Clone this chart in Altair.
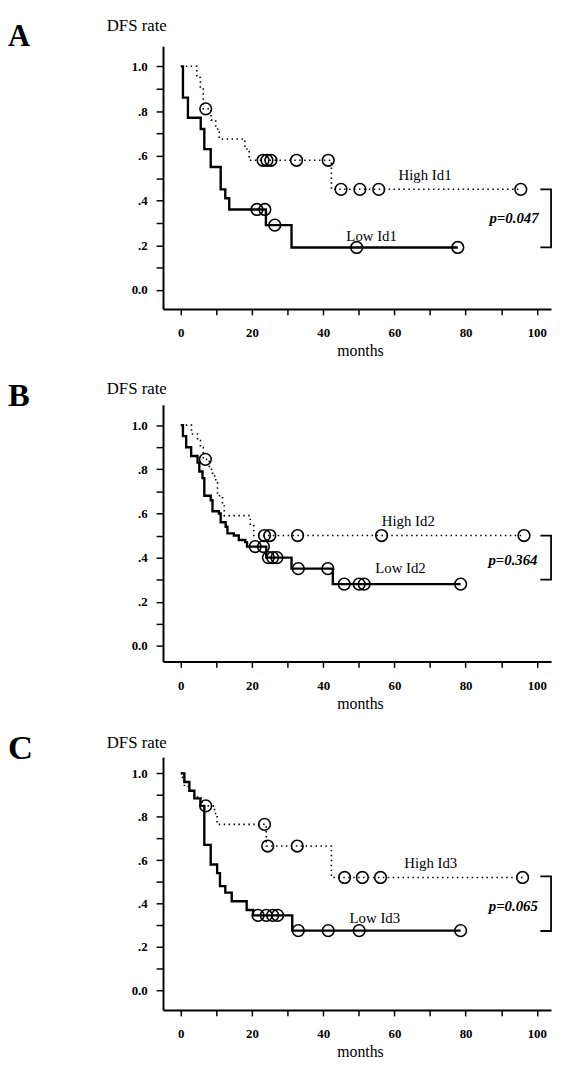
import altair as alt
import pandas as pd

# ---------------- data ----------------
panel_letters = ["A", "B", "C"]
high_names = ["High Id1", "High Id2", "High Id3"]
low_names = ["Low Id1", "Low Id2", "Low Id3"]
p_texts = ["p=0.047", "p=0.364", "p=0.065"]

# Panel A (Id1): step times / survival after each step, censored times
a_high_t = [0, 4.5, 5.5, 6.3, 8.5, 9.8, 10.8, 18.0, 19.2, 42.3]
a_high_s = [1.0, 0.95, 0.905, 0.81, 0.76, 0.72, 0.675, 0.63, 0.58, 0.45]
a_high_cens = [7.0, 23.1, 24.2, 25.3, 32.5, 41.4, 45.0, 50.3, 55.6, 95.5]
a_low_t = [0, 0.6, 2.0, 5.6, 6.6, 8.4, 11.2, 12.5, 13.6, 23.9, 31.1]
a_low_s = [1.0, 0.86, 0.77, 0.72, 0.63, 0.55, 0.45, 0.41, 0.36, 0.29, 0.19]
a_low_cens = [21.4, 23.6, 26.4, 49.4, 77.8]

# Panel B (Id2)
b_high_t = [0, 3.0, 4.7, 5.5, 6.3, 8.0, 8.9, 9.8, 10.3, 11.7, 12.2, 19.5, 20.5]
b_high_s = [1.0, 0.96, 0.93, 0.90, 0.845, 0.80, 0.77, 0.74, 0.68, 0.64, 0.59, 0.545, 0.50]
b_high_cens = [6.9, 23.5, 25.0, 32.8, 56.4, 96.4]
b_low_t = [0, 0.6, 1.5, 2.9, 4.7, 5.2, 6.1, 6.6, 8.4, 8.9, 10.7, 11.2, 12.6, 13.1,
           14.9, 16.3, 18.1, 18.6, 24.0, 31.1, 42.7]
b_low_s = [1.0, 0.95, 0.90, 0.86, 0.83, 0.79, 0.76, 0.68, 0.66, 0.61, 0.60, 0.56, 0.54, 0.51,
           0.50, 0.48, 0.47, 0.45, 0.40, 0.35, 0.28]
b_low_cens = [20.9, 23.2, 24.6, 25.8, 27.0, 33.0, 41.3, 45.9, 50.1, 51.5, 78.6]

# Panel C (Id3)
c_high_t = [0, 0.5, 1.0, 2.4, 3.8, 4.7, 6.0, 9.5, 10.2, 24.0, 42.3]
c_high_s = [1.0, 0.98, 0.94, 0.92, 0.90, 0.885, 0.85, 0.815, 0.765, 0.665, 0.52]
c_high_cens = [7.0, 23.5, 24.4, 32.7, 46.0, 51.0, 56.1, 96.0]
c_low_t = [0, 1.0, 2.4, 3.8, 5.5, 6.6, 8.4, 10.2, 11.0, 12.5, 14.3, 18.5, 20.3, 31.3]
c_low_s = [1.0, 0.96, 0.92, 0.885, 0.85, 0.67, 0.58, 0.54, 0.48, 0.45, 0.41, 0.37, 0.345, 0.275]
c_low_cens = [21.7, 24.0, 25.8, 27.2, 33.0, 41.4, 50.1, 78.6]

# annotation anchors (data units: months, rate)
high_label_t = [68.6, 63.9, 70.2]
high_label_s = [0.513, 0.564, 0.587]
low_label_t = [53.6, 61.7, 54.5]
low_label_s = [0.243, 0.352, 0.332]
p_label_t = [93.6, 93.3, 93.4]
p_label_s = [0.322, 0.388, 0.39]
bracket_top = [0.45, 0.50, 0.525]
bracket_bottom = [0.19, 0.30, 0.273]
bracket_t = [101, 104]

x_ticks = list(range(0, 101, 10))
y_ticks = [round(i / 10, 1) for i in range(11)]

curves = [
    (a_high_t, a_high_s, a_high_cens, a_low_t, a_low_s, a_low_cens),
    (b_high_t, b_high_s, b_high_cens, b_low_t, b_low_s, b_low_cens),
    (c_high_t, c_high_s, c_high_cens, c_low_t, c_low_s, c_low_cens),
]

# ---------------- layout / style ----------------
SERIF = "Liberation Serif"
PLOT_W = 393
heights = [266, 260, 256]
top_px = [20.3, 20.7, 16.4]      # px from plot top to the 1.0 level
unit_px = [226.5, 223.6, 219.6]  # px per 1.0 of rate
letter_size = [31, 33, 35]
title_y = [-20.5, -16, -14]


def km_frame(t, s, cens):
    end = max(list(cens) + list(t))
    return pd.DataFrame({"t": list(t) + [end], "s": list(s) + [s[-1]]})


def surv_at(t, s, x):
    v = s[0]
    for ti, si in zip(t, s):
        if ti <= x:
            v = si
    return v


def cens_frame(t, s, cens):
    return pd.DataFrame({"t": cens, "s": [surv_at(t, s, c) for c in cens]})


x_axis = alt.Axis(
    values=x_ticks, title=None, grid=False, format="d",
    labelExpr="datum.value % 20 == 0 ? datum.label : ''",
    domainColor="black", domainWidth=2, tickColor="black", tickWidth=1.5,
    tickSize=6, labelPadding=12, labelFont=SERIF, labelFontSize=13,
    labelFontWeight="bold", labelColor="black", labelFlush=False, labelOverlap=False,
)
y_axis = alt.Axis(
    values=y_ticks, title=None, grid=False,
    labelExpr="datum.value > 0.99 ? '1.0' : (datum.value < 0.01 ? '0.0' : "
              "(round(datum.value*10) % 2 == 0 ? '.' + round(datum.value*10) : ''))",
    domainColor="black", domainWidth=2, tickColor="black", tickWidth=1.5,
    tickSize=7, labelPadding=9, labelFont=SERIF, labelFontSize=13,
    labelFontWeight="bold", labelColor="black", labelFlush=False, labelOverlap=False,
)


def make_panel(i):
    h = heights[i]
    ht, hs, hc, lt, ls, lc = curves[i]
    bottom_margin = h - top_px[i] - unit_px[i]
    ydom = [-bottom_margin / unit_px[i], 1 + top_px[i] / unit_px[i]]
    X = alt.X("t:Q", scale=alt.Scale(domain=[-5, 104], nice=False, zero=False), axis=x_axis)
    Y = alt.Y("s:Q", scale=alt.Scale(domain=ydom, nice=False, zero=False), axis=y_axis)

    high_line = alt.Chart(km_frame(ht, hs, hc)).mark_line(
        interpolate="step-after", color="black", strokeWidth=1.6, strokeDash=[1.5, 3.5]
    ).encode(x=X, y=Y)
    low_line = alt.Chart(km_frame(lt, ls, lc)).mark_line(
        interpolate="step-after", color="black", strokeWidth=2.4
    ).encode(x=X, y=Y)
    circ = pd.concat([cens_frame(ht, hs, hc), cens_frame(lt, ls, lc)], ignore_index=True)
    circles = alt.Chart(circ).mark_point(
        shape="circle", filled=False, size=140, strokeWidth=1.6, color="black", opacity=1
    ).encode(x=X, y=Y)

    lab_df = pd.DataFrame({
        "t": [high_label_t[i], low_label_t[i]],
        "s": [high_label_s[i], low_label_s[i]],
        "label": [high_names[i], low_names[i]],
    })
    labels = alt.Chart(lab_df).mark_text(
        font=SERIF, fontSize=15, color="black", align="center", baseline="middle"
    ).encode(x=X, y=Y, text="label:N")
    p_df = pd.DataFrame({"t": [p_label_t[i]], "s": [p_label_s[i]], "label": [p_texts[i]]})
    ptext = alt.Chart(p_df).mark_text(
        font=SERIF, fontSize=15, fontStyle="italic", fontWeight="bold", color="black",
        align="center", baseline="middle"
    ).encode(x=X, y=Y, text="label:N")

    br_df = pd.DataFrame({
        "t": [bracket_t[0], bracket_t[1], bracket_t[1], bracket_t[0]],
        "s": [bracket_top[i], bracket_top[i], bracket_bottom[i], bracket_bottom[i]],
        "o": [0, 1, 2, 3],
    })
    bracket = alt.Chart(br_df).mark_line(color="black", strokeWidth=1.8).encode(
        x=X, y=Y, order="o:Q"
    )

    letter = alt.Chart(alt.Data(values=[{"label": panel_letters[i]}])).mark_text(
        font=SERIF, fontSize=letter_size[i], fontWeight="bold", align="left",
        baseline="middle", color="black"
    ).encode(x=alt.value(-157), y=alt.value(-9), text="label:N")
    title = alt.Chart(alt.Data(values=[{"label": "DFS rate"}])).mark_text(
        font=SERIF, fontSize=17, align="left", baseline="middle", color="black"
    ).encode(x=alt.value(-57), y=alt.value(title_y[i]), text="label:N")
    months = alt.Chart(alt.Data(values=[{"label": "months"}])).mark_text(
        font=SERIF, fontSize=16, align="center", baseline="middle", color="black"
    ).encode(x=alt.value(200), y=alt.value(h + 43), text="label:N")

    return alt.layer(
        high_line, low_line, circles, labels, ptext, bracket, letter, title, months
    ).properties(width=PLOT_W, height=h)


chart = alt.vconcat(
    make_panel(0), make_panel(1), make_panel(2), spacing=97, bounds="flush"
).properties(
    padding={"left": 0, "top": 2, "right": 0, "bottom": 0}
).configure(background="white").configure_view(stroke=None)

chart.save("out.html", embed_options={"renderer": "svg", "actions": False})
